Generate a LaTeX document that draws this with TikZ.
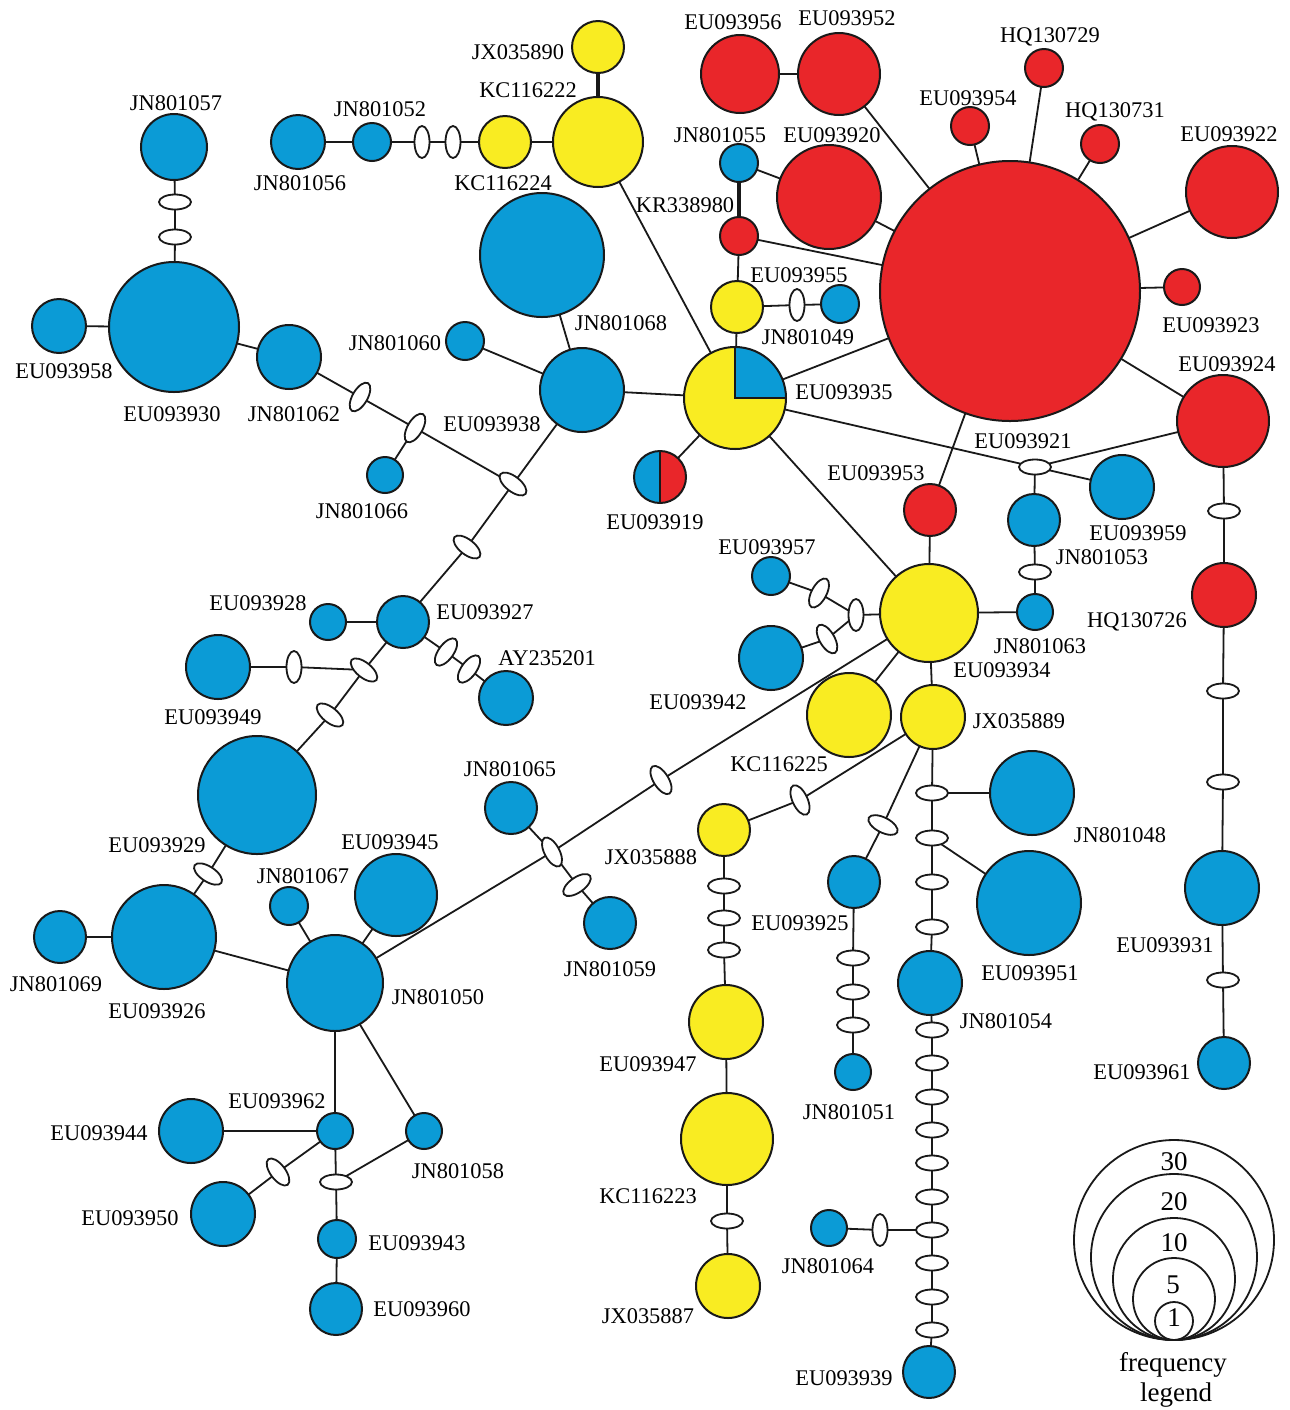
\documentclass[tikz,border=0pt]{standalone}
\usepackage{fontspec}
\setmainfont{Liberation Serif}
\usetikzlibrary{shapes.geometric}
\definecolor{cblue}{RGB}{11,155,214}
\definecolor{cred}{RGB}{233,38,42}
\definecolor{cyel}{RGB}{249,236,34}
\begin{document}
\begin{tikzpicture}[x=0.5pt,y=-0.5pt,
  hap/.style={circle,draw=black!90,line width=1pt,inner sep=0pt,outer sep=0pt,minimum size=#1pt},
  hb/.style={hap=#1,fill=cblue},
  hr/.style={hap=#1,fill=cred},
  hy/.style={hap=#1,fill=cyel},
  legc/.style={circle,draw=black!90,line width=0.9pt,inner sep=0pt,minimum size=#1pt},
  med/.style={ellipse,draw=black!90,fill=white,line width=0.9pt,minimum width=16pt,minimum height=7.5pt,inner sep=0pt,outer sep=0pt,rotate=#1},
  med/.default=0,
  lab/.style={inner sep=0pt,font=\rmfamily\fontsize{11.2}{13}\selectfont},
  leglab/.style={inner sep=0pt,font=\rmfamily\fontsize{13.5}{15}\selectfont},
  ln/.style={line width=0.9pt,draw=black!90},
  thk/.style={line width=1.7pt,draw=black!90}]
\useasboundingbox (0,0) rectangle (1290,1410);
\fill[white] (0,0) rectangle (1290,1410);

% ---------- red haplotypes
\node[hr=130] (R0) at (1010,291) {};
\node[hr=39] (EU093956) at (740,74) {};
\node[hr=41] (EU093952) at (839,74) {};
\node[hr=19] (HQ130729) at (1044,68) {};
\node[hr=19] (EU093954) at (970,126) {};
\node[hr=19] (HQ130731) at (1100,144) {};
\node[hr=46] (EU093922) at (1232,192) {};
\node[hr=52] (EU093920) at (829,197) {};
\node[hr=18] (EU093923) at (1182,287) {};
\node[hr=46] (EU093924) at (1223,421) {};
\node[hr=32] (HQ130726) at (1224,595) {};
\node[hr=26] (EU093953) at (930,510) {};
\node[hr=19] (KR338980) at (739,236) {};

% ---------- yellow haplotypes
\node[hy=26] (JX035890) at (598,47) {};
\node[hy=45] (KC116222) at (598,142) {};
\node[hy=26] (KC116224) at (505,142) {};
\node[hy=26] (EU093955) at (737,307) {};
\node[hy=51, path picture={
   \fill[cblue] (path picture bounding box.center) rectangle (path picture bounding box.north east);
   \draw[line width=1pt,black!90] (path picture bounding box.north) -- (path picture bounding box.center) -- (path picture bounding box.east);}]
   (EU093935) at (735,398) {};
\node[hr=26, path picture={
   \fill[cblue] (path picture bounding box.south west) rectangle (path picture bounding box.north);
   \draw[line width=1pt,black!90] (path picture bounding box.north) -- (path picture bounding box.south);}]
   (EU093919) at (660,477) {};
\node[hy=49] (EU093934) at (929,613) {};
\node[hy=42] (KC116225) at (849,715) {};
\node[hy=32] (JX035889) at (933,717) {};
\node[hy=26] (JX035888) at (724,830) {};
\node[hy=37] (EU093947) at (726,1022) {};
\node[hy=46] (KC116223) at (727,1139) {};
\node[hy=32] (JX035887) at (728,1286) {};

% ---------- blue haplotypes
\foreach \n/\x/\y/\r in {
  JN801057/174/147/33, EU093930/174/327/65, EU093958/59/326/27, JN801062/289/357/32,
  JN801056/298/142/27, JN801052/372/142/19, JN801066/385/475/18, JN801060/465/341/19,
  JN801068/542/255/62, EU093938/582/390/42, EU093928/328/622/18, EU093927/403/622/26,
  AY235201/506/698/27, EU093949/218/667/32, EU093929/257/795/59, EU093926/164/937/52,
  JN801069/60/937/26, JN801067/289/906/19, EU093945/396/895/41, JN801050/335/983/48,
  JN801065/511/808/26, JN801059/610/923/26, EU093962/335/1131/18, EU093944/191/1131/32,
  EU093950/223/1214/32, JN801058/424/1131/18, EU093943/337/1239/19, EU093960/336/1309/26,
  JN801055/739/163/19, JN801049/840/304/19, EU093957/771/576/19, EU093942/771/658/32,
  EU093959/1122/487/32, JN801053/1034/520/26, JN801063/1035/612/18, JN801048/1032/793/42,
  EU093951/1029/903/52, EU093925/854/882/26, JN801051/853/1072/18, JN801054/930/983/32,
  JN801064/829/1228/18, EU093939/929/1372/26, EU093931/1222/888/37, EU093961/1224/1063/26}
  \node[hb=\r] (\n) at (\x,\y) {};

% ---------- median vectors
\foreach \n/\x/\y/\r in {
  m1/175/202/0, m2/175/237/0, m3/422/142/90, m4/453/142/90,
  m5/360/397/60, m6/415/428/60, m7/513/484/-38, m8/467/547/-38,
  m9/446/652/54, m10/469/669/54, m11/364/670/-39, m12/330/715/-39,
  m13/294/667/90, m14/208/874/-33, m15/552/852/118, m16/661/780/122,
  m17/577/885/35, m18/800/800/115, m19/883/825/-27,
  m20/853/958/0, m21/853/992/0, m22/853/1025/0,
  m23/932/793/0, m24/932/838/0, m25/932/882/0, m26/932/927/0,
  m27/932/1030/0, m28/932/1063/0, m29/932/1097/0, m30/932/1130/0, m31/932/1163/0,
  m32/932/1197/0, m33/932/1230/0, m34/932/1263/0, m35/932/1297/0, m36/932/1330/0,
  m37/880/1230/90, m38/724/886/0, m39/724/918/0, m40/724/950/0, m41/727/1221/0,
  m42/1224/511/0, m43/1223/691/0, m44/1223/782/0, m45/1223/980/0,
  m46/1035/467/0, m47/1035/572/0, m48/819/593/62, m49/856/615/90, m50/827/639/120,
  m51/797/305/90, m52/278/1172/127, m53/336/1182/0}
  \node[med=\r] (\n) at (\x,\y) {};

% ---------- connectors
\foreach \a/\b in {
  JN801057/m1, m1/m2, m2/EU093930, EU093958/EU093930, EU093930/JN801062,
  JN801062/m5, m5/m6, m6/m7, JN801066/m6, m7/EU093938, m7/m8, m8/EU093927,
  JN801060/EU093938, JN801068/EU093938, EU093938/EU093935,
  EU093928/EU093927, EU093927/m9, m9/m10, m10/AY235201,
  EU093927/m11, m11/m12, m12/EU093929, EU093949/m13, m13/m11,
  EU093929/m14, m14/EU093926, JN801069/EU093926, EU093926/JN801050,
  JN801067/JN801050, EU093945/JN801050,
  JN801050/m15, m15/m16, m16/EU093934, JN801065/m15, m15/m17, m17/JN801059,
  JN801050/EU093962, EU093944/EU093962, EU093950/m52, m52/EU093962,
  JN801050/JN801058, EU093962/m53, JN801058/m53, m53/EU093943, EU093943/EU093960,
  KC116222/KC116224, KC116224/m4, m4/m3, m3/JN801052, JN801052/JN801056,
  KC116222/EU093935,
  KR338980/EU093955, KR338980/R0, JN801055/EU093920, EU093920/R0,
  EU093955/EU093935, EU093955/m51, m51/JN801049,
  EU093956/EU093952, EU093952/R0, HQ130729/R0, EU093954/R0, HQ130731/R0,
  EU093922/R0, EU093923/R0, EU093924/R0,
  EU093935/R0, EU093935/EU093919, EU093935/EU093934, EU093935/m46,
  m46/EU093924, m46/EU093959, m46/JN801053, JN801053/m47, m47/JN801063,
  JN801063/EU093934, R0/EU093953, EU093953/EU093934,
  EU093957/m48, m48/m49, EU093942/m50, m50/m49, m49/EU093934,
  EU093934/KC116225, EU093934/JX035889,
  JX035889/m18, m18/JX035888, JX035889/m19, m19/EU093925,
  EU093925/m20, m20/m21, m21/m22, m22/JN801051,
  JX035889/m23, m23/m24, m24/m25, m25/m26, m26/JN801054,
  JN801054/m27, m27/m28, m28/m29, m29/m30, m30/m31, m31/m32, m32/m33,
  m33/m34, m34/m35, m35/m36, m36/EU093939,
  JN801048/m23, EU093951/m24, JN801064/m37, m37/m33,
  JX035888/m38, m38/m39, m39/m40, m40/EU093947, EU093947/KC116223,
  KC116223/m41, m41/JX035887,
  EU093924/m42, m42/HQ130726, HQ130726/m43, m43/m44, m44/EU093931,
  EU093931/m45, m45/EU093961}
  \draw[ln] (\a) -- (\b);
\draw[thk] (JX035890) -- (KC116222);
\draw[thk] (JN801055) -- (KR338980);

% ---------- labels
\foreach \t/\x/\y in {
  JX035890/518/52, KC116222/528/90, KC116224/503/183, JN801052/380/109,
  JN801056/300/183, JN801057/176/103, EU093958/64/371, EU093930/172/414,
  JN801062/294/414, EU093938/492/424, JN801060/395/343, JN801068/621/323,
  JN801066/362/511, EU093956/733/22, EU093952/847/18, HQ130729/1050/37,
  EU093954/968/98, HQ130731/1115/112, EU093922/1229/134, JN801055/720/135,
  EU093920/832/135, KR338980/685/205, EU093955/799/275, JN801049/808/337,
  EU093923/1211/325, EU093924/1227/364, EU093935/844/392, EU093921/1023/441,
  EU093953/876/473, EU093919/655/522, EU093959/1138/533, JN801053/1102/557,
  EU093957/767/547, HQ130726/1137/622, JN801063/1040/646, EU093934/1002/670,
  EU093928/258/603, EU093927/485/612, AY235201/547/658, EU093949/213/717,
  EU093942/698/702, JX035889/1019/721, KC116225/779/764, JN801065/510/769,
  JX035888/651/857, JN801048/1120/835, EU093929/157/845, EU093945/390/842,
  JN801067/303/876, EU093925/800/923, EU093931/1165/945, JN801059/610/969,
  EU093951/1030/973, JN801069/56/984, EU093926/157/1011, JN801050/438/997,
  JN801054/1006/1021, EU093947/648/1064, EU093961/1142/1072, EU093962/277/1101,
  JN801051/849/1112, EU093944/99/1133, JN801058/458/1171, KC116223/648/1196,
  EU093950/130/1218, EU093943/417/1243, JN801064/828/1266, EU093960/422/1309,
  JX035887/648/1316, EU093939/844/1378}
  \node[lab] (L\t) at (\x,\y) {\t};

% ---------- frequency legend
\node[legc=100] (leg30) at (1174,1240) {};
\node[legc=83] (leg20) at (1174,1257) {};
\node[legc=61] (leg10) at (1174,1279) {};
\node[legc=41] (leg5) at (1174,1299) {};
\node[legc=19] (leg1) at (1174,1321) {};
\node[leglab] (t30) at (1174,1162) {30};
\node[leglab] (t20) at (1174,1202) {20};
\node[leglab] (t10) at (1174,1243) {10};
\node[leglab] (t5) at (1173,1285) {5};
\node[leglab] (t1) at (1174,1318) {1};
\node[leglab,anchor=base] (tfreq) at (1173,1371) {frequency};
\node[leglab,anchor=base] (tleg) at (1176,1401) {legend};
\end{tikzpicture}
\end{document}
